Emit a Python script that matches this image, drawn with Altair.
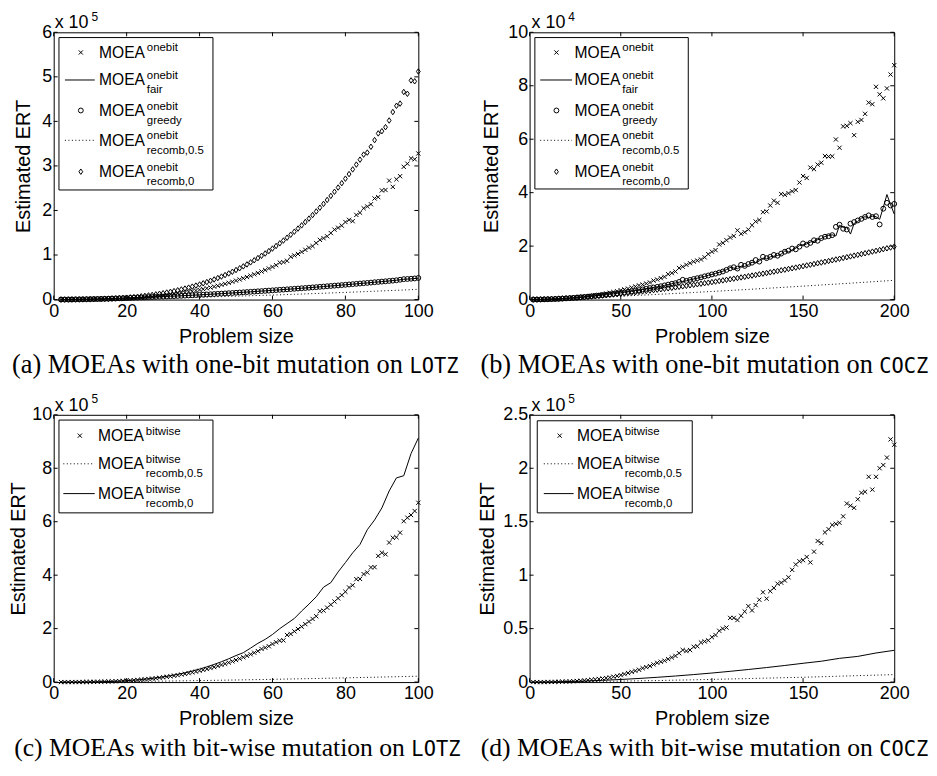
import altair as alt
import pandas as pd

# ---------------------------------------------------------------- data
# (a) LOTZ, one-bit mutation  (values in units of 1e5)
A_N = list(range(2, 101))
A_N2 = list(range(2, 101, 2))
A_ONEBIT = [0.000, 0.000, 0.000, 0.000, 0.001, 0.001, 0.002, 0.002, 0.003,
            0.005, 0.006, 0.007, 0.009, 0.011, 0.014, 0.017, 0.020, 0.023, 0.027,
            0.031, 0.036, 0.041, 0.047, 0.053, 0.060, 0.067, 0.075, 0.083, 0.092,
            0.101, 0.111, 0.122, 0.134, 0.146, 0.159, 0.172, 0.187, 0.202, 0.218,
            0.234, 0.252, 0.270, 0.290, 0.310, 0.331, 0.353, 0.376, 0.400, 0.425,
            0.451, 0.478, 0.506, 0.535, 0.566, 0.597, 0.630, 0.663, 0.698, 0.734,
            0.772, 0.830, 0.840, 0.870, 0.960, 0.990, 1.023, 1.069, 1.117, 1.166,
            1.200, 1.269, 1.340, 1.378, 1.420, 1.493, 1.570, 1.613, 1.660, 1.741,
            1.79, 1.76, 1.90, 1.95, 2.05, 2.09, 2.14, 2.27, 2.30, 2.45,
            2.46, 2.67, 2.53, 2.70, 2.77, 2.98, 3.05, 3.17, 3.15, 3.28]
A_GREEDY = [0.001, 0.001, 0.002, 0.003, 0.005, 0.006, 0.007, 0.009, 0.011,
            0.013, 0.015, 0.017, 0.019, 0.021, 0.024, 0.026, 0.029, 0.031, 0.034,
            0.037, 0.040, 0.043, 0.046, 0.049, 0.053, 0.056, 0.059, 0.063, 0.066,
            0.070, 0.074, 0.077, 0.081, 0.085, 0.089, 0.093, 0.097, 0.102, 0.106,
            0.110, 0.115, 0.119, 0.124, 0.129, 0.133, 0.138, 0.143, 0.148, 0.153,
            0.158, 0.163, 0.169, 0.174, 0.179, 0.185, 0.190, 0.196, 0.201, 0.207,
            0.213, 0.219, 0.224, 0.230, 0.236, 0.242, 0.248, 0.254, 0.260, 0.266,
            0.273, 0.279, 0.286, 0.292, 0.299, 0.305, 0.312, 0.318, 0.325, 0.332,
            0.339, 0.346, 0.353, 0.360, 0.367, 0.374, 0.381, 0.389, 0.396, 0.403,
            0.410, 0.418, 0.425, 0.433, 0.445, 0.458, 0.462, 0.468, 0.474, 0.485]
A_RECOMB0 = [0.000, 0.000, 0.000, 0.001, 0.001, 0.002, 0.003, 0.004, 0.005,
             0.007, 0.009, 0.012, 0.015, 0.018, 0.022, 0.026, 0.031, 0.036, 0.042,
             0.049, 0.056, 0.064, 0.073, 0.083, 0.093, 0.104, 0.116, 0.129, 0.143,
             0.158, 0.174, 0.190, 0.208, 0.227, 0.247, 0.268, 0.291, 0.314, 0.339,
             0.365, 0.393, 0.421, 0.451, 0.483, 0.516, 0.550, 0.586, 0.624, 0.663,
             0.703, 0.745, 0.789, 0.835, 0.882, 0.931, 0.982, 1.034, 1.089, 1.145,
             1.203, 1.263, 1.325, 1.389, 1.456, 1.524, 1.594, 1.666, 1.741, 1.818,
             1.897, 1.978, 2.062, 2.148, 2.236, 2.327, 2.420, 2.515, 2.613, 2.714,
             2.817, 2.922, 3.030, 3.141, 3.255, 3.30, 3.43, 3.58, 3.73, 3.78,
             3.87, 4.02, 4.21, 4.35, 4.40, 4.66, 4.62, 4.92, 4.90, 5.12]
A_FAIR = [0.001, 0.002, 0.005, 0.007, 0.011, 0.015, 0.019, 0.024, 0.029, 0.034,
          0.040, 0.046, 0.053, 0.059, 0.066, 0.074, 0.081, 0.089, 0.097, 0.106,
          0.115, 0.124, 0.133, 0.143, 0.153, 0.163, 0.174, 0.185, 0.196, 0.207,
          0.219, 0.230, 0.242, 0.254, 0.266, 0.279, 0.292, 0.305, 0.318, 0.332,
          0.346, 0.360, 0.374, 0.389, 0.403, 0.418, 0.433, 0.455, 0.465, 0.480]
A_RECOMB05 = [0.000, 0.001, 0.002, 0.004, 0.006, 0.008, 0.010, 0.013, 0.015, 0.017,
              0.020, 0.024, 0.027, 0.030, 0.034, 0.037, 0.041, 0.045, 0.049, 0.053,
              0.058, 0.062, 0.067, 0.071, 0.076, 0.081, 0.086, 0.091, 0.096, 0.101,
              0.107, 0.113, 0.118, 0.124, 0.130, 0.136, 0.142, 0.148, 0.155, 0.161,
              0.167, 0.174, 0.180, 0.187, 0.194, 0.201, 0.208, 0.215, 0.222, 0.230]

# (b) COCZ, one-bit mutation  (values in units of 1e4)
B_N = list(range(2, 201, 2))
B_N10 = [2] + list(range(10, 201, 10))
B_ONEBIT = [0.000, 0.000, 0.001, 0.001, 0.005, 0.009, 0.014, 0.021, 0.030, 0.040,
            0.050, 0.062, 0.075, 0.090, 0.105, 0.122, 0.140, 0.160, 0.180, 0.205,
            0.230, 0.255, 0.280, 0.310, 0.350, 0.380, 0.410, 0.450, 0.490, 0.530,
            0.560, 0.600, 0.640, 0.710, 0.750, 0.800, 0.850, 0.950, 0.990, 1.050,
            1.180, 1.230, 1.300, 1.360, 1.420, 1.460, 1.500, 1.580, 1.700, 1.790,
            1.850, 2.060, 2.120, 2.220, 2.320, 2.380, 2.590, 2.460, 2.520, 2.620,
            2.780, 2.920, 2.980, 3.270, 3.300, 3.520, 3.700, 3.620, 3.950, 3.920,
            3.980, 4.050, 4.100, 4.380, 4.620, 4.550, 4.940, 4.880, 5.050, 5.120,
            5.370, 5.350, 5.360, 5.990, 5.680, 6.480, 6.500, 6.600, 6.150, 6.650,
            6.720, 6.950, 7.370, 7.310, 7.960, 7.680, 7.530, 7.900, 8.420, 8.770]
B_FAIR = [0.001, 0.002, 0.004, 0.008, 0.011, 0.016, 0.022, 0.029, 0.037, 0.045,
          0.053, 0.063, 0.073, 0.084, 0.096, 0.107, 0.120, 0.136, 0.150, 0.165,
          0.180, 0.196, 0.215, 0.233, 0.250, 0.270, 0.290, 0.310, 0.335, 0.355,
          0.380, 0.410, 0.430, 0.455, 0.480, 0.500, 0.530, 0.560, 0.590, 0.620,
          0.650, 0.680, 0.700, 0.740, 0.770, 0.800, 0.840, 0.860, 0.910, 0.940,
          0.980, 1.020, 1.060, 1.120, 1.200, 1.180, 1.150, 1.250, 1.240, 1.300,
          1.400, 1.360, 1.450, 1.550, 1.520, 1.600, 1.620, 1.650, 1.700, 1.820,
          1.780, 1.860, 1.920, 2.020, 2.050, 2.080, 2.150, 2.180, 2.240, 2.280,
          2.360, 2.400, 2.420, 2.380, 2.780, 2.700, 2.700, 2.450, 2.850, 2.920,
          3.050, 3.100, 3.050, 3.120, 3.100, 3.000, 3.450, 3.930, 3.550, 3.200]
B_GREEDY = [0.001, 0.002, 0.004, 0.008, 0.012, 0.017, 0.023, 0.029, 0.036, 0.044,
            0.053, 0.062, 0.072, 0.083, 0.095, 0.108, 0.121, 0.135, 0.149, 0.164,
            0.180, 0.197, 0.214, 0.232, 0.251, 0.270, 0.290, 0.310, 0.330, 0.355,
            0.380, 0.400, 0.430, 0.450, 0.476, 0.500, 0.530, 0.560, 0.590, 0.614,
            0.660, 0.740, 0.700, 0.735, 0.770, 0.800, 0.830, 0.870, 0.900, 0.940,
            0.970, 1.010, 1.050, 1.110, 1.170, 1.210, 1.160, 1.300, 1.260, 1.330,
            1.380, 1.480, 1.420, 1.600, 1.550, 1.600, 1.670, 1.640, 1.720, 1.790,
            1.830, 1.910, 1.880, 1.980, 2.100, 2.050, 2.120, 2.220, 2.200, 2.300,
            2.350, 2.370, 2.410, 2.720, 2.800, 2.650, 2.620, 2.840, 2.900, 2.960,
            3.020, 3.090, 3.150, 3.090, 3.120, 2.810, 3.400, 3.620, 3.520, 3.580]
B_RECOMB05 = [0.001, 0.017, 0.040, 0.067, 0.096, 0.127, 0.160, 0.194, 0.229, 0.265,
              0.303, 0.341, 0.380, 0.420, 0.461, 0.503, 0.545, 0.588, 0.631, 0.675, 0.720]
B_RECOMB0 = [0.001, 0.004, 0.007, 0.011, 0.016, 0.022, 0.029, 0.035, 0.042, 0.050,
             0.058, 0.067, 0.076, 0.085, 0.095, 0.106, 0.117, 0.128, 0.139, 0.151,
             0.163, 0.176, 0.189, 0.202, 0.215, 0.229, 0.244, 0.258, 0.273, 0.288,
             0.304, 0.320, 0.336, 0.352, 0.369, 0.386, 0.404, 0.421, 0.439, 0.457,
             0.476, 0.495, 0.514, 0.533, 0.552, 0.572, 0.592, 0.612, 0.632, 0.653,
             0.674, 0.696, 0.717, 0.739, 0.761, 0.783, 0.806, 0.828, 0.851, 0.874,
             0.898, 0.922, 0.946, 0.970, 0.994, 1.019, 1.044, 1.069, 1.094, 1.119,
             1.145, 1.171, 1.197, 1.224, 1.250, 1.277, 1.304, 1.331, 1.359, 1.386,
             1.414, 1.442, 1.470, 1.499, 1.527, 1.556, 1.585, 1.614, 1.644, 1.673,
             1.703, 1.733, 1.763, 1.794, 1.824, 1.855, 1.886, 1.917, 1.948, 1.980]

# (c) LOTZ, bit-wise mutation  (values in units of 1e5)
C_N = list(range(2, 101))
C_N2 = list(range(2, 101, 2))
C_N10 = [2] + list(range(10, 101, 10))
C_BITWISE = [0.000, 0.000, 0.000, 0.001, 0.001, 0.002, 0.003, 0.005, 0.007,
             0.009, 0.011, 0.015, 0.018, 0.022, 0.027, 0.032, 0.038, 0.045, 0.053,
             0.061, 0.070, 0.080, 0.091, 0.103, 0.116, 0.130, 0.145, 0.161, 0.178,
             0.197, 0.216, 0.237, 0.259, 0.283, 0.308, 0.334, 0.362, 0.392, 0.422,
             0.455, 0.489, 0.525, 0.562, 0.601, 0.642, 0.685, 0.730, 0.776, 0.825,
             0.875, 0.928, 0.983, 1.039, 1.098, 1.159, 1.240, 1.288, 1.340, 1.426,
             1.490, 1.550, 1.560, 1.760, 1.800, 1.897, 1.985, 2.075, 2.168, 2.264,
             2.362, 2.463, 2.650, 2.674, 2.784, 2.897, 3.013, 3.132, 3.254, 3.379,
             3.540, 3.620, 3.850, 3.860, 4.040, 4.100, 4.290, 4.300, 4.720, 4.840,
             4.780, 5.220, 5.400, 5.420, 5.590, 6.020, 6.150, 6.250, 6.400, 6.710]
C_RECOMB05 = [0.000, 0.007, 0.020, 0.036, 0.056, 0.078, 0.102, 0.129, 0.157, 0.188, 0.220]
C_RECOMB0 = [0.000, 0.000, 0.001, 0.003, 0.006, 0.010, 0.017, 0.026, 0.038, 0.053,
             0.072, 0.095, 0.123, 0.155, 0.194, 0.238, 0.289, 0.347, 0.413, 0.487,
             0.569, 0.660, 0.761, 0.872, 0.993, 1.100, 1.271, 1.450, 1.598, 1.780,
             2.000, 2.189, 2.380, 2.658, 2.916, 3.191, 3.550, 3.720, 4.122, 4.471,
             4.837, 5.150, 5.700, 6.065, 6.516, 7.150, 7.640, 7.720, 8.550, 9.130]

# (d) COCZ, bit-wise mutation  (values in units of 1e5)
D_N = list(range(2, 201, 2))
D_N10 = [2] + list(range(10, 201, 10))
D_BITWISE = [0.000, 0.000, 0.000, 0.000, 0.001, 0.001, 0.002, 0.003, 0.004, 0.005,
             0.006, 0.008, 0.010, 0.012, 0.015, 0.018, 0.021, 0.025, 0.029, 0.033,
             0.038, 0.043, 0.050, 0.057, 0.065, 0.075, 0.085, 0.095, 0.105, 0.115,
             0.130, 0.140, 0.150, 0.165, 0.180, 0.190, 0.200, 0.215, 0.230, 0.245,
             0.270, 0.300, 0.290, 0.300, 0.330, 0.335, 0.370, 0.380, 0.390, 0.420,
             0.440, 0.480, 0.500, 0.510, 0.600, 0.600, 0.580, 0.620, 0.660, 0.710,
             0.670, 0.720, 0.770, 0.840, 0.780, 0.850, 0.880, 0.920, 0.930, 0.950,
             0.980, 1.050, 1.100, 1.130, 1.140, 1.170, 1.120, 1.220, 1.320, 1.300,
             1.400, 1.430, 1.470, 1.480, 1.490, 1.550, 1.670, 1.650, 1.630, 1.710,
             1.770, 1.780, 1.920, 1.800, 1.920, 2.000, 2.030, 2.100, 2.270, 2.220]
D_RECOMB05 = [0.000, 0.001, 0.002, 0.004, 0.006, 0.009, 0.012, 0.014, 0.018, 0.021,
              0.025, 0.029, 0.033, 0.037, 0.041, 0.045, 0.050, 0.055, 0.060, 0.065, 0.070]
D_RECOMB0 = [0.000, 0.0013, 0.0047, 0.0097, 0.0163, 0.0243, 0.0338, 0.0446, 0.0567, 0.0701,
             0.0847, 0.1006, 0.1176, 0.1358, 0.1552, 0.1757, 0.1950, 0.2220, 0.2400, 0.2720, 0.2970]

# tick values / labels
X_TICKS_100 = [0, 20, 40, 60, 80, 100]
X_TICKS_200 = [0, 50, 100, 150, 200]
Y_TICKS_A = [0, 1, 2, 3, 4, 5, 6]
Y_TICKS_BC = [0, 2, 4, 6, 8, 10]
Y_TICKS_D = [0, 0.5, 1, 1.5, 2, 2.5]

LEG_ONEBIT = [("onebit", "", "x"), ("onebit", "fair", "-"), ("onebit", "greedy", "o"),
              ("onebit", "recomb,0.5", ":"), ("onebit", "recomb,0", "d")]
LEG_BITWISE = [("bitwise", "", "x"), ("bitwise", "recomb,0.5", ":"), ("bitwise", "recomb,0", "-")]

# ---------------------------------------------------------------- styling
W, H = 367, 269
TL = 4
SANS = "Liberation Sans"
SERIF = "Liberation Serif"
MONO = "DejaVu Sans Mono"
XSHAPE = "M-1,-1L1,1M-1,1L1,-1"
DSHAPE = "M0,-1.3L0.9,0L0,1.3L-0.9,0Z"
POINT_STYLE = {"x": (XSHAPE, 18), "o": ("circle", 24), "d": (DSHAPE, 18)}
ONE = pd.DataFrame({"k": [0]})


def make_axes(xdom, ydom, xticks, yticks, tpad):
    X = alt.X("n:Q", scale=alt.Scale(domain=xdom, nice=False, zero=False),
              axis=alt.Axis(values=xticks, format="~f", ticks=False, tickSize=0, domain=False,
                            grid=False, labelPadding=3, labelFont=SANS, labelFontSize=18,
                            labelColor="black", labelFlush=False, labelOverlap=False,
                            title="Problem size", titleFont=SANS, titleFontSize=20,
                            titleFontWeight="normal", titleColor="black", titleY=43,
                            titleBaseline="alphabetic"))
    Y = alt.Y("v:Q", scale=alt.Scale(domain=ydom, nice=False, zero=False),
              axis=alt.Axis(values=yticks, format="~f", ticks=False, tickSize=0, domain=False,
                            grid=False, labelPadding=2, labelFont=SANS, labelFontSize=18,
                            labelColor="black", labelFlush=False, labelOverlap=False,
                            title="Estimated ERT", titleFont=SANS, titleFontSize=20,
                            titleFontWeight="normal", titleColor="black", titlePadding=tpad))
    return X, Y


def series(xs, ys, style, X, Y):
    base = alt.Chart(pd.DataFrame({"n": xs, "v": ys}))
    if style in POINT_STYLE:
        shape, size = POINT_STYLE[style]
        m = base.mark_point(shape=shape, size=size, filled=False, color="black",
                            strokeWidth=1, opacity=1)
    elif style == ":":
        m = base.mark_line(color="black", strokeWidth=1, strokeDash=[1, 2.5])
    else:
        m = base.mark_line(color="black", strokeWidth=1)
    return m.encode(x=X, y=Y)


def txt(s, x, y, size, font=SANS, align="left"):
    return alt.Chart(ONE).mark_text(font=font, fontSize=size, align=align,
                                    baseline="alphabetic", color="black").encode(
        x=alt.value(x), y=alt.value(y), text=alt.value(s))


def legend(entries, g):
    layers = [alt.Chart(ONE).mark_rect(fill="white", stroke="black", strokeWidth=1).encode(
        x=alt.value(g["box"][0]), x2=alt.value(g["box"][1]),
        y=alt.value(g["box"][2]), y2=alt.value(g["box"][3]))]
    for (sup, sub, style), c in zip(entries, g["rows"]):
        if style in POINT_STYLE:
            shape, size = POINT_STYLE[style]
            layers.append(alt.Chart(ONE).mark_point(shape=shape, size=size, filled=False,
                                                    color="black", strokeWidth=1, opacity=1)
                          .encode(x=alt.value(g["sym"]), y=alt.value(c)))
        else:
            kw = {"strokeDash": [1, 2.5]} if style == ":" else {}
            layers.append(alt.Chart(ONE).mark_rule(color="black", strokeWidth=1, **kw)
                          .encode(x=alt.value(g["line"][0]), x2=alt.value(g["line"][1]),
                                  y=alt.value(c)))
        layers.append(txt("MOEA", g["text"], c + 5.5, 15.7))
        layers.append(txt(sup, g["text"] + 48, c - 1, 11.5))
        if sub:
            layers.append(txt(sub, g["text"] + 48, c + 13.5, 11.5))
    return layers


def panel(spec):
    X, Y = make_axes(spec["xdom"], spec["ydom"], spec["xticks"], spec["yticks"], spec["tpad"])
    layers = []
    for xs, ys, style in spec["series"]:
        layers.append(series(xs, ys, style, X, Y))
    xt = pd.DataFrame({"n": spec["xticks"]})
    yt = pd.DataFrame({"v": spec["yticks"]})
    rule = dict(color="black", strokeWidth=1)
    layers += [
        alt.Chart(xt).mark_rule(**rule).encode(x=X, y=alt.value(H), y2=alt.value(H - TL)),
        alt.Chart(xt).mark_rule(**rule).encode(x=X, y=alt.value(0), y2=alt.value(TL)),
        alt.Chart(yt).mark_rule(**rule).encode(y=Y, x=alt.value(0), x2=alt.value(TL)),
        alt.Chart(yt).mark_rule(**rule).encode(y=Y, x=alt.value(W), x2=alt.value(W - TL)),
    ]
    layers += legend(spec["legend"], spec["lgeom"])
    # exponent label
    layers.append(txt("x 10", spec["exp_x"], -4, 18))
    layers.append(txt(spec["exp"], spec["exp_x"] + 37, -11.5, 12))
    # caption
    j = spec["junction"]
    layers.append(txt(spec["caption"], j - 6.5, H + 74, spec["capsize"], font=SERIF,
                      align="right"))
    layers.append(txt(spec["mono"], j, H + 74, 20.5, font=MONO))
    return alt.layer(*layers).properties(width=W, height=H)


GEOM_AB = {"box": (5.3, 160.3, 5.3, 158.7), "rows": [20.3, 48, 78.7, 108.7, 140.3],
           "sym": 27.3, "line": (11.3, 41.3), "text": 45.7}
GEOM_B = dict(GEOM_AB, box=(5.3, 159.7, 5.3, 157.7), sym=27, line=(10.7, 42.7), text=45.3)
GEOM_C = {"box": (5.3, 160.3, 5.3, 98.7), "rows": [21, 49.3, 79.3],
          "sym": 26.3, "line": (9.7, 41.3), "text": 44.7}
GEOM_D = {"box": (7.7, 163.7, 6, 98.7), "rows": [21, 49.3, 79.3],
          "sym": 30.3, "line": (14.3, 44.3), "text": 47.7}

pa = panel({"xdom": [0, 100], "ydom": [0, 6], "xticks": X_TICKS_100, "yticks": Y_TICKS_A,
            "series": [(A_N, A_ONEBIT, "x"), (A_N2, A_FAIR, "-"), (A_N, A_GREEDY, "o"),
                       (A_N2, A_RECOMB05, ":"), (A_N, A_RECOMB0, "d")],
            "legend": LEG_ONEBIT, "lgeom": GEOM_AB, "exp": "5", "exp_x": 1, "tpad": 8,
            "caption": "(a) MOEAs with one-bit mutation on", "mono": "LOTZ",
            "junction": 358, "capsize": 26.5})
pb = panel({"xdom": [0, 200], "ydom": [0, 10], "xticks": X_TICKS_200, "yticks": Y_TICKS_BC,
            "series": [(B_N, B_ONEBIT, "x"), (B_N, B_FAIR, "-"), (B_N, B_GREEDY, "o"),
                       (B_N10, B_RECOMB05, ":"), (B_N, B_RECOMB0, "d")],
            "legend": LEG_ONEBIT, "lgeom": GEOM_B, "exp": "4", "exp_x": 2, "tpad": 6,
            "caption": "(b) MOEAs with one-bit mutation on", "mono": "COCZ",
            "junction": 352, "capsize": 26.5})
pc = panel({"xdom": [0, 100], "ydom": [0, 10], "xticks": X_TICKS_100, "yticks": Y_TICKS_BC,
            "series": [(C_N, C_BITWISE, "x"), (C_N10, C_RECOMB05, ":"), (C_N2, C_RECOMB0, "-")],
            "legend": LEG_BITWISE, "lgeom": GEOM_C, "exp": "5", "exp_x": 1, "tpad": 3,
            "caption": "(c) MOEAs with bit-wise mutation on", "mono": "LOTZ",
            "junction": 360, "capsize": 25.8})
pd_ = panel({"xdom": [0, 200], "ydom": [0, 2.5], "xticks": X_TICKS_200, "yticks": Y_TICKS_D,
             "series": [(D_N, D_BITWISE, "x"), (D_N10, D_RECOMB05, ":"), (D_N10, D_RECOMB0, "-")],
             "legend": LEG_BITWISE, "lgeom": GEOM_D, "exp": "5", "exp_x": 2, "tpad": 5,
             "caption": "(d) MOEAs with bit-wise mutation on", "mono": "COCZ",
             "junction": 352, "capsize": 25.8})

chart = alt.concat(pa, pb, pc, pd_, columns=2, spacing={"row": 116, "column": 112},
                   bounds="flush").properties(
    padding={"left": 0, "top": 0, "right": 0, "bottom": 0}, background="white"
).configure_view(stroke="black", strokeWidth=1)

chart.save("out.html", embed_options={"renderer": "svg", "actions": False})
